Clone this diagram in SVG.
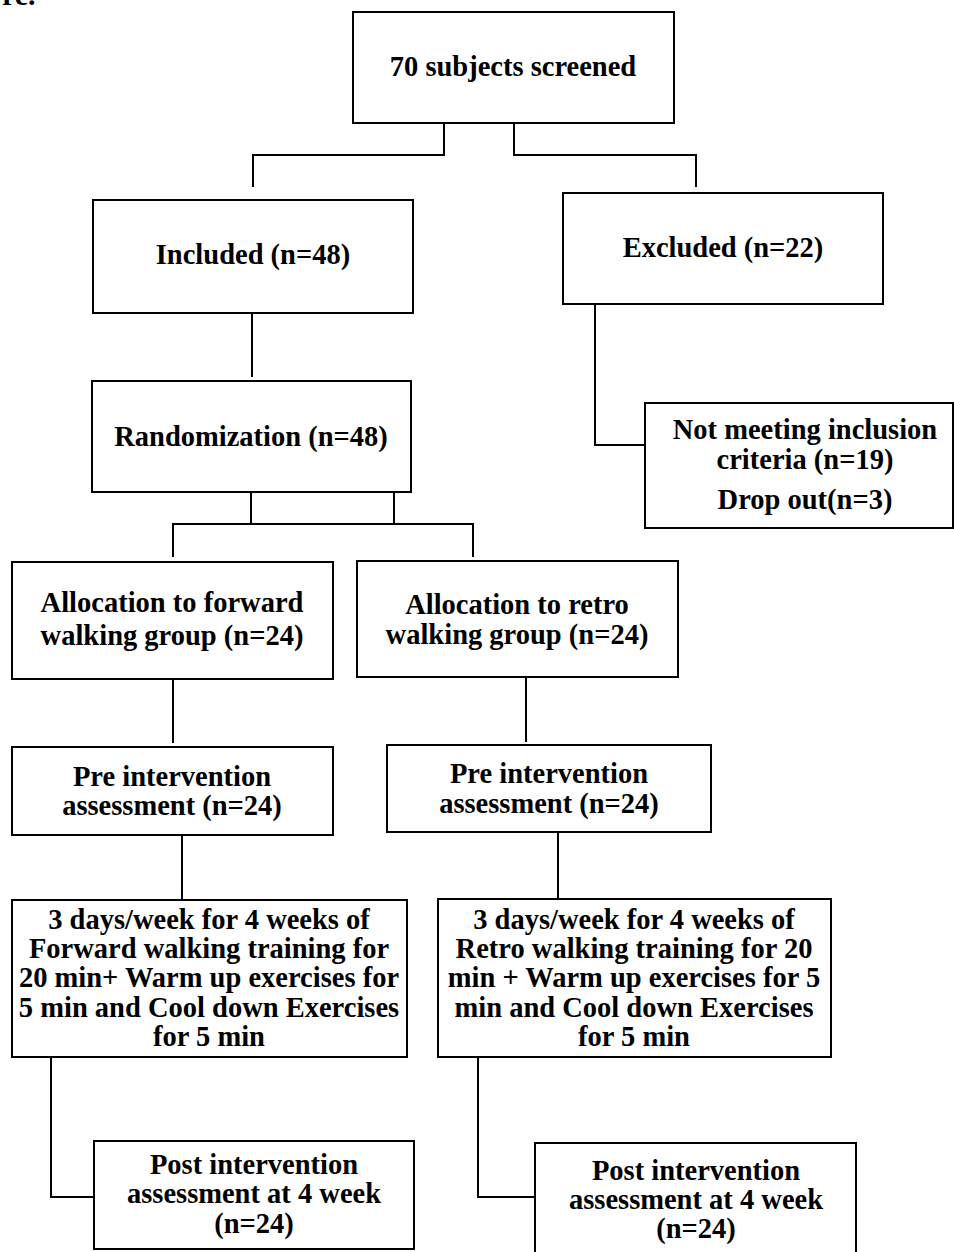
<svg xmlns="http://www.w3.org/2000/svg" width="954" height="1252" viewBox="0 0 954 1252">
<style>
rect.box{fill:#fff;stroke:#000;stroke-width:2}
.conn path{fill:none;stroke:#000;stroke-width:2}
text{font-family:"Liberation Serif","Times New Roman",serif;font-weight:bold;font-size:28.5px;fill:#000;text-anchor:middle}
</style>
<rect width="954" height="1252" fill="#fff"/>
<text x="2" y="5" style="text-anchor:start;font-size:30px">re.</text>
<g class="conn" id="connectors">
<path d="M444,123 V155 H253 V187"/>
<path d="M514,123 V155 H696 V187"/>
<path d="M252,313 V377"/>
<path d="M595,304 V445 H645"/>
<path d="M251,492 V524"/>
<path d="M394,492 V524"/>
<path d="M173,557 V524 H473 V557"/>
<path d="M173,679 V743"/>
<path d="M526,677 V742"/>
<path d="M182,835 V900"/>
<path d="M558,832 V899"/>
<path d="M51,1057 V1197 H94"/>
<path d="M478,1057 V1197 H535"/>
</g>
<g id="screened">
<rect class="box" x="353" y="12" width="321" height="111"/>
<text x="513" y="76">70 subjects screened</text>
</g>
<g id="included">
<rect class="box" x="93" y="200" width="320" height="113"/>
<text x="253" y="264">Included (n=48)</text>
</g>
<g id="excluded">
<rect class="box" x="563" y="193" width="320" height="111"/>
<text x="723" y="257">Excluded (n=22)</text>
</g>
<g id="randomization">
<rect class="box" x="92" y="381" width="319" height="111"/>
<text x="251" y="446">Randomization (n=48)</text>
</g>
<g id="not-meeting">
<rect class="box" x="645" y="403" width="308" height="125"/>
<text x="805" y="439">Not meeting inclusion</text>
<text x="805" y="469">criteria (n=19)</text>
<text x="805" y="509">Drop out(n=3)</text>
</g>
<g id="alloc-forward">
<rect class="box" x="12" y="562" width="321" height="117"/>
<text x="172" y="612">Allocation to forward</text>
<text x="172" y="645">walking group (n=24)</text>
</g>
<g id="alloc-retro">
<rect class="box" x="357" y="561" width="321" height="116"/>
<text x="517" y="614">Allocation to retro</text>
<text x="517" y="644">walking group (n=24)</text>
</g>
<g id="pre-forward">
<rect class="box" x="12" y="747" width="321" height="88"/>
<text x="172" y="786">Pre intervention</text>
<text x="172" y="815">assessment (n=24)</text>
</g>
<g id="pre-retro">
<rect class="box" x="387" y="745" width="324" height="87"/>
<text x="549" y="783">Pre intervention</text>
<text x="549" y="813">assessment (n=24)</text>
</g>
<g id="training-forward">
<rect class="box" x="12" y="900" width="395" height="157"/>
<text x="209" y="929">3 days/week for 4 weeks of</text>
<text x="209" y="958">Forward walking training for</text>
<text x="209" y="987">20 min+ Warm up exercises for</text>
<text x="209" y="1017">5 min and Cool down Exercises</text>
<text x="209" y="1046">for 5 min</text>
</g>
<g id="training-retro">
<rect class="box" x="438" y="899" width="393" height="158"/>
<text x="634" y="929">3 days/week for 4 weeks of</text>
<text x="634" y="958">Retro walking training for 20</text>
<text x="634" y="987">min + Warm up exercises for 5</text>
<text x="634" y="1017">min and Cool down Exercises</text>
<text x="634" y="1046">for 5 min</text>
</g>
<g id="post-forward">
<rect class="box" x="94" y="1141" width="320" height="108"/>
<text x="254" y="1174">Post intervention</text>
<text x="254" y="1203">assessment at 4 week</text>
<text x="254" y="1233">(n=24)</text>
</g>
<g id="post-retro">
<rect class="box" x="535" y="1143" width="321" height="115"/>
<text x="696" y="1180">Post intervention</text>
<text x="696" y="1209">assessment at 4 week</text>
<text x="696" y="1238">(n=24)</text>
</g>
</svg>
